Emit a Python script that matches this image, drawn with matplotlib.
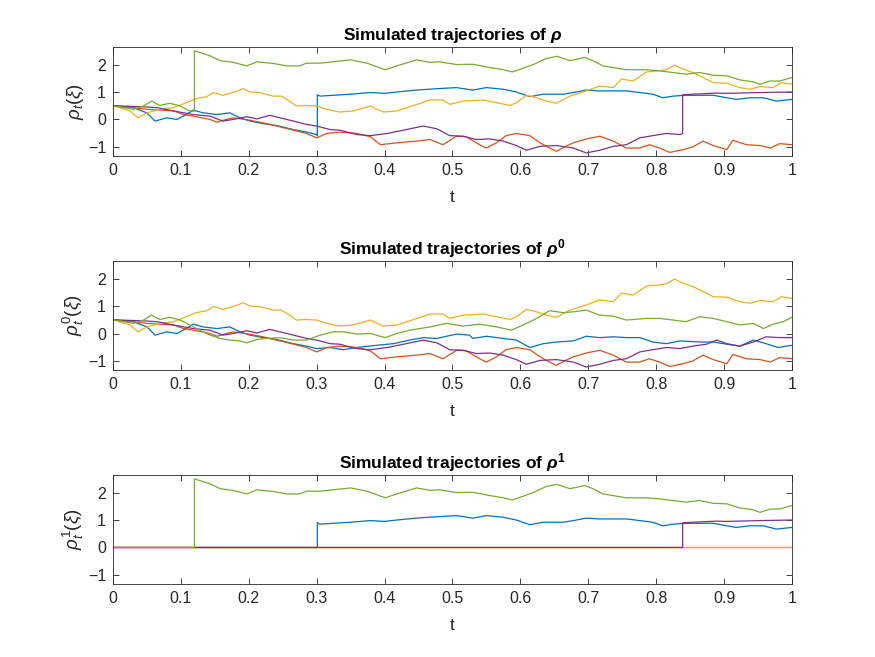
import numpy as np
import matplotlib
matplotlib.use("Agg")
import matplotlib.pyplot as plt

plt.rcParams['font.family'] = ['Liberation Sans', 'DejaVu Sans']
plt.rcParams['mathtext.fontset'] = 'custom'
plt.rcParams['mathtext.rm'] = 'Liberation Sans'
plt.rcParams['mathtext.it'] = 'Liberation Sans:italic'
plt.rcParams['mathtext.bf'] = 'Liberation Sans:bold'
plt.rcParams['mathtext.bfit'] = 'Liberation Sans:bold:italic'

# rho^0 trajectories
t_blue0 = [0, 0.03, 0.05, 0.062, 0.079, 0.094, 0.108, 0.118, 0.133, 0.153, 0.172, 0.187, 0.202, 0.221,
           0.241, 0.266, 0.285, 0.30, 0.32, 0.339, 0.359, 0.388, 0.413, 0.437, 0.457, 0.477, 0.506, 0.525,
           0.53, 0.55, 0.575, 0.594, 0.614, 0.634, 0.653, 0.678, 0.697, 0.717, 0.737, 0.756, 0.776, 0.795,
           0.815, 0.835, 0.864, 0.884, 0.904, 0.923, 0.943, 0.962, 0.979, 1.0]
blue0 = [0.5, 0.43, 0.24, -0.06, 0.06, 0.0, 0.18, 0.34, 0.24, 0.18, 0.24, 0.06, -0.06, -0.15,
         -0.22, -0.37, -0.46, -0.55, -0.51, -0.59, -0.51, -0.43, -0.37, -0.24, -0.15, -0.18, -0.02, -0.06,
         -0.18, -0.10, -0.18, -0.24, -0.51, -0.37, -0.31, -0.27, -0.10, -0.15, -0.12, -0.15, -0.15, -0.31,
         -0.37, -0.27, -0.31, -0.31, -0.39, -0.46, -0.24, -0.37, -0.51, -0.43]

t_orange0 = [0, 0.03, 0.05, 0.089, 0.104, 0.123, 0.143, 0.153, 0.167, 0.177, 0.2, 0.221, 0.241, 0.266,
             0.285, 0.30, 0.315, 0.334, 0.359, 0.379, 0.394, 0.418, 0.447, 0.467, 0.486, 0.506, 0.52, 0.54,
             0.55, 0.565, 0.579, 0.594, 0.614, 0.629, 0.643, 0.653, 0.665, 0.678, 0.697, 0.717, 0.737, 0.756,
             0.776, 0.79, 0.805, 0.82, 0.84, 0.854, 0.869, 0.884, 0.904, 0.913, 0.933, 0.953, 0.968, 0.982, 1.0]
orange0 = [0.5, 0.43, 0.37, 0.31, 0.18, 0.10, 0.0, -0.10, 0.0, 0.06, -0.02, -0.12, -0.24, -0.39,
           -0.51, -0.67, -0.51, -0.46, -0.51, -0.63, -0.92, -0.85, -0.79, -0.73, -0.92, -0.61, -0.63, -0.92,
           -1.04, -0.85, -0.59, -0.51, -0.59, -0.85, -1.04, -1.16, -1.0, -0.85, -0.71, -0.61, -0.79, -1.04,
           -1.04, -0.92, -1.04, -1.20, -1.10, -1.0, -0.79, -0.95, -1.10, -0.76, -0.92, -0.95, -1.04, -0.88, -0.92]

t_yellow0 = [0, 0.025, 0.037, 0.05, 0.069, 0.089, 0.108, 0.123, 0.138, 0.148, 0.162, 0.177, 0.192, 0.202,
             0.216, 0.236, 0.248, 0.26, 0.27, 0.285, 0.30, 0.315, 0.334, 0.354, 0.379, 0.398, 0.418, 0.437,
             0.467, 0.486, 0.496, 0.516, 0.545, 0.565, 0.585, 0.594, 0.609, 0.624, 0.638, 0.653, 0.673, 0.697,
             0.717, 0.737, 0.749, 0.766, 0.786, 0.805, 0.815, 0.827, 0.84, 0.854, 0.869, 0.884, 0.904, 0.923,
             0.938, 0.953, 0.972, 0.985, 1.0]
yellow0 = [0.5, 0.31, 0.06, 0.24, 0.37, 0.43, 0.61, 0.76, 0.83, 0.98, 0.88, 0.98, 1.12, 1.0,
           0.98, 0.85, 0.85, 0.67, 0.49, 0.51, 0.49, 0.37, 0.27, 0.31, 0.49, 0.27, 0.31, 0.46,
           0.71, 0.71, 0.55, 0.67, 0.71, 0.61, 0.51, 0.61, 0.88, 0.79, 0.67, 0.59, 0.85, 1.04,
           1.22, 1.16, 1.47, 1.40, 1.73, 1.77, 1.81, 1.98, 1.83, 1.71, 1.53, 1.34, 1.32, 1.16,
           1.10, 1.20, 1.16, 1.34, 1.28]

t_purple0 = [0, 0.045, 0.065, 0.089, 0.118, 0.143, 0.162, 0.177, 0.197, 0.212, 0.231, 0.246, 0.266, 0.285,
             0.30, 0.32, 0.334, 0.359, 0.379, 0.404, 0.428, 0.457, 0.477, 0.496, 0.516, 0.535, 0.555, 0.575,
             0.594, 0.609, 0.629, 0.653, 0.678, 0.697, 0.717, 0.737, 0.756, 0.776, 0.795, 0.815, 0.835, 0.854,
             0.874, 0.889, 0.904, 0.923, 0.943, 0.962, 0.982, 1.0]
purple0 = [0.5, 0.46, 0.43, 0.31, 0.18, 0.12, -0.06, 0.0, 0.10, 0.02, 0.15, 0.06, -0.06, -0.18,
           -0.24, -0.37, -0.39, -0.55, -0.59, -0.51, -0.39, -0.24, -0.34, -0.59, -0.61, -0.73, -0.71, -0.79,
           -0.95, -1.12, -0.98, -0.95, -1.04, -1.22, -1.12, -0.98, -0.92, -0.67, -0.59, -0.51, -0.55, -0.46,
           -0.39, -0.24, -0.37, -0.46, -0.31, -0.12, -0.15, -0.15]

t_green0 = [0, 0.03, 0.045, 0.057, 0.069, 0.084, 0.099, 0.113, 0.128, 0.143, 0.158, 0.172, 0.187, 0.197,
            0.212, 0.226, 0.246, 0.266, 0.285, 0.305, 0.324, 0.339, 0.359, 0.379, 0.401, 0.418, 0.437, 0.467,
            0.491, 0.516, 0.54, 0.565, 0.587, 0.604, 0.624, 0.643, 0.663, 0.678, 0.697, 0.717, 0.737, 0.756,
            0.786, 0.805, 0.825, 0.844, 0.864, 0.884, 0.904, 0.923, 0.943, 0.958, 0.972, 0.987, 1.0]
green0 = [0.5, 0.37, 0.49, 0.67, 0.51, 0.59, 0.49, 0.31, 0.12, -0.06, -0.18, -0.24, -0.27, -0.34,
          -0.22, -0.18, -0.15, -0.24, -0.24, -0.06, 0.06, 0.06, -0.02, 0.0, -0.15, 0.0, 0.12, 0.24,
          0.37, 0.27, 0.34, 0.24, 0.12, 0.31, 0.55, 0.83, 0.76, 0.79, 0.85, 0.67, 0.63, 0.49,
          0.55, 0.55, 0.49, 0.43, 0.61, 0.55, 0.43, 0.31, 0.37, 0.18, 0.34, 0.43, 0.59]

# rho^1 trajectories after the jump (bottom panel)
t_green1 = [0.12, 0.143, 0.158, 0.177, 0.197, 0.212, 0.236, 0.256, 0.275, 0.285, 0.305, 0.324, 0.35,
            0.374, 0.401, 0.418, 0.447, 0.467, 0.481, 0.506, 0.53, 0.555, 0.575, 0.588, 0.60, 0.62, 0.638,
            0.654, 0.673, 0.695, 0.707, 0.722, 0.756, 0.786, 0.805, 0.844, 0.864, 0.884, 0.904, 0.923, 0.943,
            0.953, 0.968, 0.982, 1.0]
green1 = [2.50, 2.32, 2.14, 2.08, 1.95, 2.10, 2.04, 1.95, 1.95, 2.05, 2.05, 2.10, 2.17,
          2.05, 1.81, 1.95, 2.17, 2.08, 2.10, 2.0, 2.01, 1.89, 1.81, 1.73, 1.83, 2.01, 2.22,
          2.30, 2.14, 2.26, 2.14, 1.95, 1.81, 1.81, 1.77, 1.65, 1.71, 1.61, 1.59, 1.44, 1.37,
          1.28, 1.40, 1.40, 1.53]

t_blue1 = [0.301, 0.305, 0.324, 0.35, 0.379, 0.40, 0.418, 0.447, 0.477, 0.506, 0.53, 0.55, 0.575, 0.594,
           0.614, 0.634, 0.663, 0.678, 0.697, 0.717, 0.737, 0.756, 0.776, 0.795, 0.81, 0.825, 0.844, 0.864,
           0.884, 0.904, 0.918, 0.938, 0.958, 0.977, 1.0]
blue1 = [0.90, 0.85, 0.88, 0.92, 0.98, 0.95, 1.0, 1.07, 1.12, 1.16, 1.07, 1.16, 1.10, 1.0,
         0.83, 0.92, 0.92, 0.98, 1.07, 1.04, 1.04, 1.04, 0.98, 0.92, 0.79, 0.85, 0.88, 0.88,
         0.88, 0.79, 0.73, 0.79, 0.79, 0.67, 0.73]

t_purple1 = [0.839, 0.854, 0.889, 0.904, 0.953, 1.0]
purple1 = [0.90, 0.92, 0.96, 0.95, 0.98, 1.0]

# jump times and the rho^0 value just before the jump
tau = {'blue': 0.301, 'purple': 0.839, 'green': 0.12}
pre_jump = {'blue': -0.59, 'purple': -0.51, 'green': 0.30}

colors = {'blue': '#0072BD', 'orange': '#D95319', 'yellow': '#EDB120',
          'purple': '#7E2F8E', 'green': '#77AC30'}
order = ['blue', 'orange', 'yellow', 'purple', 'green']

rho0 = {'blue': (t_blue0, blue0), 'orange': (t_orange0, orange0), 'yellow': (t_yellow0, yellow0),
        'purple': (t_purple0, purple0), 'green': (t_green0, green0)}
rho1 = {'blue': (t_blue1, blue1), 'purple': (t_purple1, purple1), 'green': (t_green1, green1)}


def full_rho(name):
    t0, v0 = np.array(rho0[name][0]), np.array(rho0[name][1])
    if name not in rho1:
        return t0, v0
    keep = t0 < tau[name]
    t1, v1 = rho1[name]
    t = np.concatenate([t0[keep], [tau[name]], t1])
    v = np.concatenate([v0[keep], [pre_jump[name]], v1])
    return t, v


def full_rho1(name):
    if name not in rho1:
        return np.array([0, 1.0]), np.array([0, 0.0])
    t1, v1 = rho1[name]
    t = np.concatenate([[0, tau[name]], t1])
    v = np.concatenate([[0, 0], v1])
    return t, v


fig = plt.figure(figsize=(8.75, 6.57), dpi=100)
bottoms = [0.7626, 0.4368, 0.1111]
titles = [r'Simulated trajectories of $\mathbfit{\rho}$',
          r'Simulated trajectories of $\mathbfit{\rho}^{\mathbf{0}}$',
          r'Simulated trajectories of $\mathbfit{\rho}^{\mathbf{1}}$']
ylabels = [r'$\rho_t(\xi)$', r'$\rho^0_t(\xi)$', r'$\rho^1_t(\xi)$']

for k in range(3):
    ax = fig.add_axes([0.1291, bottoms[k], 0.776, 0.1655])
    for name in order:
        if k == 0:
            t, v = full_rho(name)
        elif k == 1:
            t, v = rho0[name]
        else:
            t, v = full_rho1(name)
        ax.plot(t, v, color=colors[name], lw=0.9)
    ax.set_xlim(0, 1)
    ax.set_ylim(-1.33, 2.63)
    ax.set_xticks(np.arange(0, 1.01, 0.1))
    ax.set_xticklabels(['0', '0.1', '0.2', '0.3', '0.4', '0.5', '0.6', '0.7', '0.8', '0.9', '1'])
    ax.set_yticks([-1, 0, 1, 2])
    ax.tick_params(direction='in', top=True, right=True, length=4, width=0.6,
                   labelsize=11.5, colors='#262626', pad=5)
    for s in ax.spines.values():
        s.set_color('#262626')
        s.set_linewidth(0.6)
    ax.set_title(titles[k], fontsize=12.5, fontweight='bold', pad=5)
    ax.set_xlabel('t', fontsize=12.5, color='#262626', labelpad=9)
    ax.set_ylabel(ylabels[k], fontsize=13.5, color='#262626', labelpad=1)

fig.savefig('out.png', dpi=100)
